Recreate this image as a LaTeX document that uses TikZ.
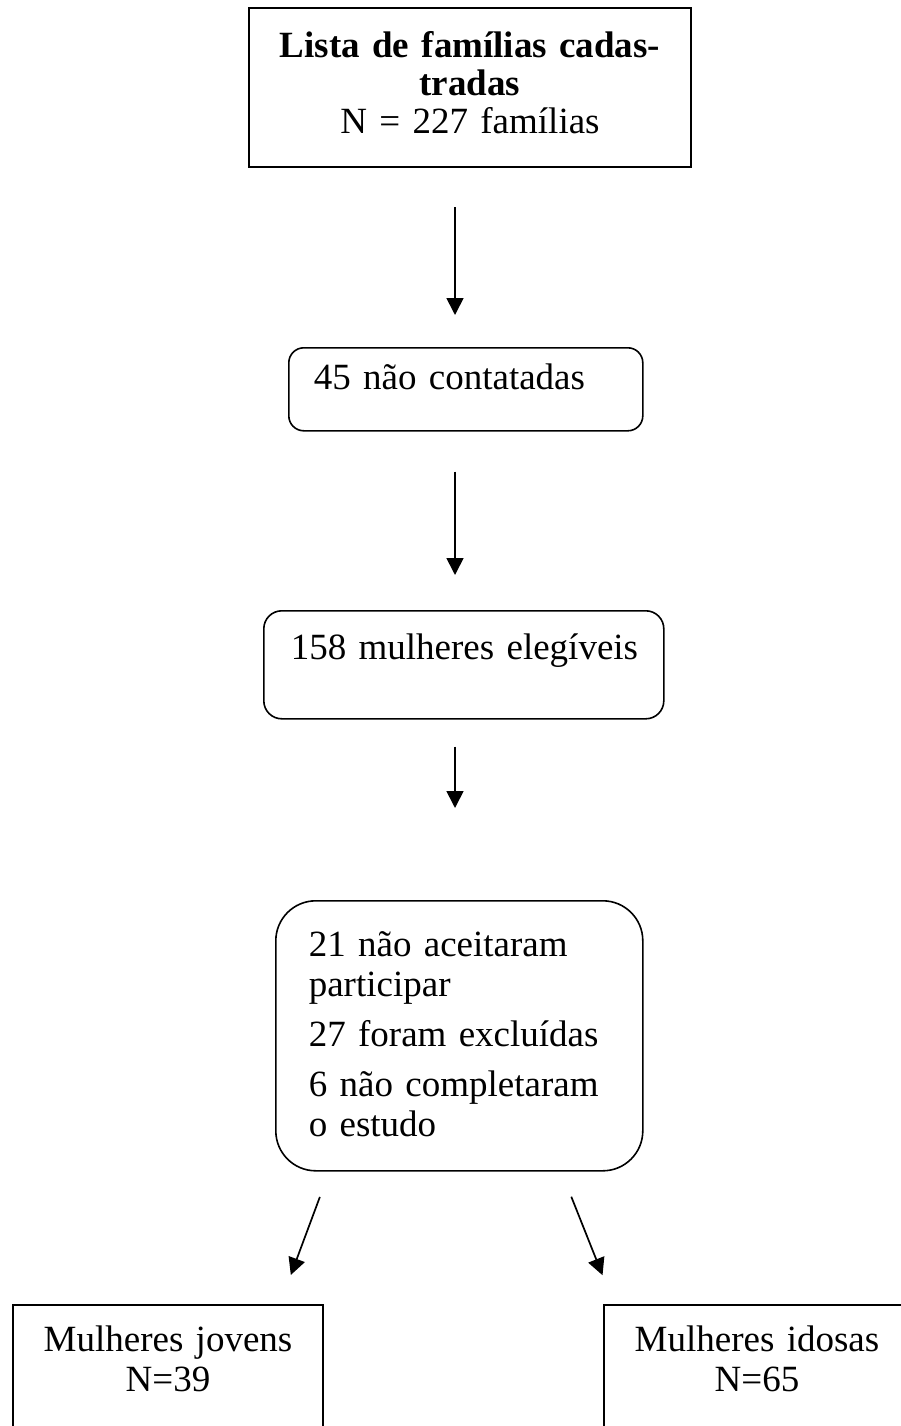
\documentclass[tikz,border=0pt]{standalone}
\usepackage{fontspec}
\setmainfont{Liberation Serif}
\usetikzlibrary{arrows.meta}
\newcommand\letra[1]{\fontsize{37}{#1}\selectfont}

\begin{document}
\begin{tikzpicture}[x=1pt, y=-1pt,
 caixa/.style={draw, line width=2pt, anchor=north west, inner ysep=0pt, font=\letra{40}},
 redonda/.style={caixa, line width=1.6pt, rounded corners=#1, align=left},
 seta/.style={line width=1.7pt, -{Triangle[width=17pt,length=17pt]}}]
\useasboundingbox (0,0) rectangle (901,1426);
\clip (0,0) rectangle (901,1426);
\node[caixa, align=center, inner xsep=10pt, text width=422pt, text height=50pt, text depth=109pt, font=\letra{38}] (lista) at (248,7) {\textbf{Lista de famílias cadas-}\\\textbf{tradas}\\N = 227 famílias};
\node[redonda=15pt, inner xsep=25pt, text width=304pt, text height=42pt, text depth=41pt] (nc) at (288,347) {45 não contatadas};
\node[redonda=18pt, inner xsep=27pt, text width=346pt, text height=49pt, text depth=59pt] (eleg) at (263,610) {\mbox{158 mulheres elegíveis}};
\node[redonda=40pt, inner xsep=33pt, text width=301pt, text height=56pt, text depth=214pt] (perdas) at (275,900) {21 não aceitaram\\participar\\[10pt]27 foram excluídas\\[10pt]6 não completaram\\o estudo};
\node[caixa, align=center, inner xsep=5pt, text width=300pt, text height=46pt, text depth=100pt] (jovens) at (12,1304) {Mulheres jovens\\N=39};
\node[caixa, align=center, inner xsep=5pt, text width=296pt, text height=46pt, text depth=100pt] (idosas) at (603,1304) {Mulheres idosas\\N=65};
\coordinate (eixo) at (455,0);
\foreach \a/\b/\p/\q in {lista/nc/39/32, nc/eleg/40/35, eleg/perdas/27/92}
 \draw[seta, shorten <=\p pt, shorten >=\q pt] (\a.south -| eixo) -- (\b.north -| eixo);
\draw[seta, shorten <=27pt, shorten >=31pt] ([xshift=-130pt]perdas.south) -- ([xshift=112pt]jovens.north);
\draw[seta, shorten <=27pt, shorten >=31pt] ([xshift=102pt]perdas.south) -- ([xshift=-143pt]idosas.north);
\end{tikzpicture}
\end{document}
